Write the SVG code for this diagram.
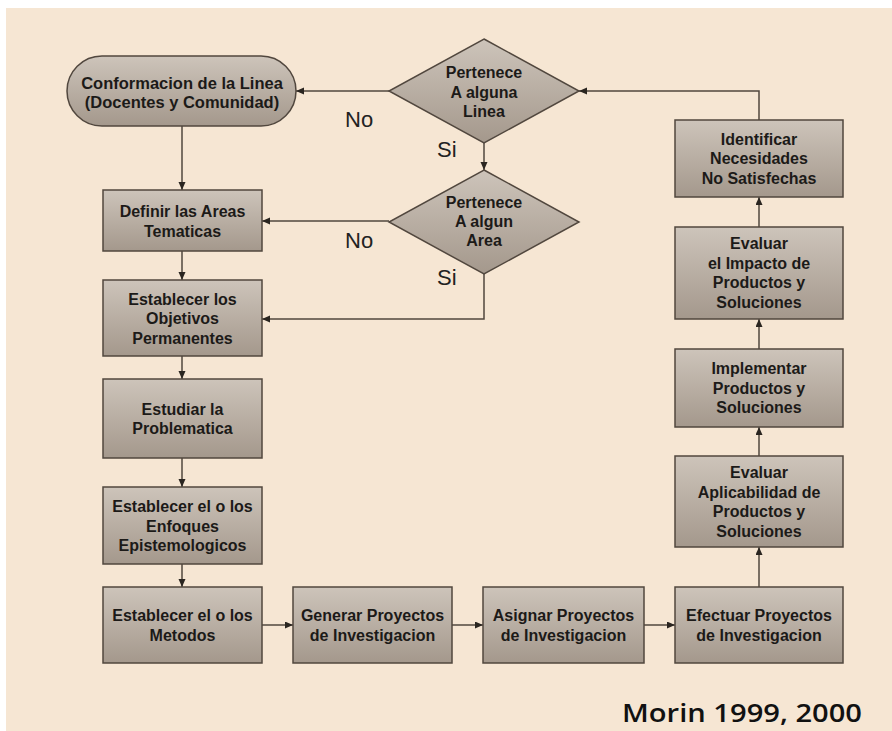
<svg xmlns="http://www.w3.org/2000/svg" width="892" height="731" viewBox="0 0 892 731">
<style>
.node{fill:url(#g);stroke:#51473e;stroke-width:1.5}
.t{font-family:"Liberation Sans",Arial,sans-serif;font-weight:bold;font-size:16px;fill:#1c1a18;text-anchor:middle}
.tt{font-size:16.5px}
.lbl{font-family:"Liberation Sans",Arial,sans-serif;font-size:22px;fill:#222}
.c{fill:none;stroke:#51473e;stroke-width:1.5}
.a{marker-end:url(#arr)}
</style>
<defs>
<linearGradient id="g" x1="0" y1="0" x2="0" y2="1">
<stop offset="0" stop-color="#cdc4ba"/>
<stop offset="1" stop-color="#a4988c"/>
</linearGradient>
<marker id="arr" markerUnits="userSpaceOnUse" markerWidth="9" markerHeight="8" refX="8" refY="3.5" orient="auto">
<path d="M0,0 L8,3.5 L0,7 z" fill="#2a2520"/>
</marker>
</defs>
<rect x="0" y="0" width="892" height="731" fill="#ffffff"/>
<rect x="6" y="8" width="886" height="723" fill="#f6e6d3"/>
<g id="connectors">
<path class="c a" d="M759,120 L759,91 L579,91"/>
<path class="c a" d="M389,91 L296,91"/>
<path class="c a" d="M484,143 L484,170"/>
<path class="c a" d="M389,221 L262,221"/>
<path class="c a" d="M484,274 L484,319 L262,319"/>
<path class="c a" d="M182,126 L182,190"/>
<path class="c a" d="M182,251 L182,280"/>
<path class="c a" d="M182,356 L182,379"/>
<path class="c a" d="M182,458 L182,487"/>
<path class="c a" d="M182,564 L182,587"/>
<path class="c a" d="M262,625 L293,625"/>
<path class="c a" d="M452,625 L483,625"/>
<path class="c a" d="M644,625 L675,625"/>
<path class="c a" d="M759,587 L759,547"/>
<path class="c a" d="M759,456 L759,427"/>
<path class="c a" d="M759,349 L759,319"/>
<path class="c a" d="M759,227 L759,197"/>
</g>
<g id="labels">
<text class="lbl" x="345" y="127">No</text>
<text class="lbl" x="437" y="157">Si</text>
<text class="lbl" x="345" y="248">No</text>
<text class="lbl" x="437" y="285">Si</text>
</g>
<g id="n-conformacion">
<rect class="node" x="67" y="56" width="229" height="70" rx="35"/>
<text class="t tt" x="182" y="89">Conformacion de la Linea</text>
<text class="t tt" x="182" y="108">(Docentes y Comunidad)</text>
</g>
<g id="n-linea">
<polygon class="node" points="484,39 579,91 484,143 389,91"/>
<text class="t" x="484" y="78">Pertenece</text>
<text class="t" x="484" y="98">A alguna</text>
<text class="t" x="484" y="117">Linea</text>
</g>
<g id="n-area">
<polygon class="node" points="484,170 579,222 484,274 389,222"/>
<text class="t" x="484" y="208">Pertenece</text>
<text class="t" x="484" y="227">A algun</text>
<text class="t" x="484" y="246">Area</text>
</g>
<g id="n-definir">
<rect class="node" x="103" y="190" width="159" height="61"/>
<text class="t" x="182.5" y="217">Definir las Areas</text>
<text class="t" x="182.5" y="237">Tematicas</text>
</g>
<g id="n-objetivos">
<rect class="node" x="103" y="280" width="159" height="76"/>
<text class="t" x="182.5" y="305">Establecer los</text>
<text class="t" x="182.5" y="324">Objetivos</text>
<text class="t" x="182.5" y="344">Permanentes</text>
</g>
<g id="n-estudiar">
<rect class="node" x="103" y="379" width="159" height="79"/>
<text class="t" x="182.5" y="415">Estudiar la</text>
<text class="t" x="182.5" y="434">Problematica</text>
</g>
<g id="n-enfoques">
<rect class="node" x="103" y="487" width="159" height="77"/>
<text class="t" x="182.5" y="512">Establecer el o los</text>
<text class="t" x="182.5" y="532">Enfoques</text>
<text class="t" x="182.5" y="551">Epistemologicos</text>
</g>
<g id="n-metodos">
<rect class="node" x="103" y="587" width="159" height="76"/>
<text class="t" x="182.5" y="621">Establecer el o los</text>
<text class="t" x="182.5" y="641">Metodos</text>
</g>
<g id="n-generar">
<rect class="node" x="293" y="587" width="159" height="76"/>
<text class="t" x="372.5" y="621">Generar Proyectos</text>
<text class="t" x="372.5" y="641">de Investigacion</text>
</g>
<g id="n-asignar">
<rect class="node" x="483" y="587" width="161" height="76"/>
<text class="t" x="563.5" y="621">Asignar Proyectos</text>
<text class="t" x="563.5" y="641">de Investigacion</text>
</g>
<g id="n-efectuar">
<rect class="node" x="675" y="587" width="168" height="76"/>
<text class="t" x="759" y="621">Efectuar Proyectos</text>
<text class="t" x="759" y="641">de Investigacion</text>
</g>
<g id="n-aplicabilidad">
<rect class="node" x="675" y="456" width="168" height="91"/>
<text class="t" x="759" y="478">Evaluar</text>
<text class="t" x="759" y="498">Aplicabilidad de</text>
<text class="t" x="759" y="517">Productos y</text>
<text class="t" x="759" y="537">Soluciones</text>
</g>
<g id="n-implementar">
<rect class="node" x="675" y="349" width="168" height="78"/>
<text class="t" x="759" y="374">Implementar</text>
<text class="t" x="759" y="394">Productos y</text>
<text class="t" x="759" y="413">Soluciones</text>
</g>
<g id="n-impacto">
<rect class="node" x="675" y="227" width="168" height="92"/>
<text class="t" x="759" y="249">Evaluar</text>
<text class="t" x="759" y="269">el Impacto de</text>
<text class="t" x="759" y="288">Productos y</text>
<text class="t" x="759" y="308">Soluciones</text>
</g>
<g id="n-identificar">
<rect class="node" x="675" y="120" width="168" height="77"/>
<text class="t" x="759" y="145">Identificar</text>
<text class="t" x="759" y="164">Necesidades</text>
<text class="t" x="759" y="184">No Satisfechas</text>
</g>
<text x="622" y="722" textLength="240" lengthAdjust="spacingAndGlyphs" font-family="'Open Sans',sans-serif" font-weight="600" font-size="25" fill="#111">Morin 1999, 2000</text>
</svg>
